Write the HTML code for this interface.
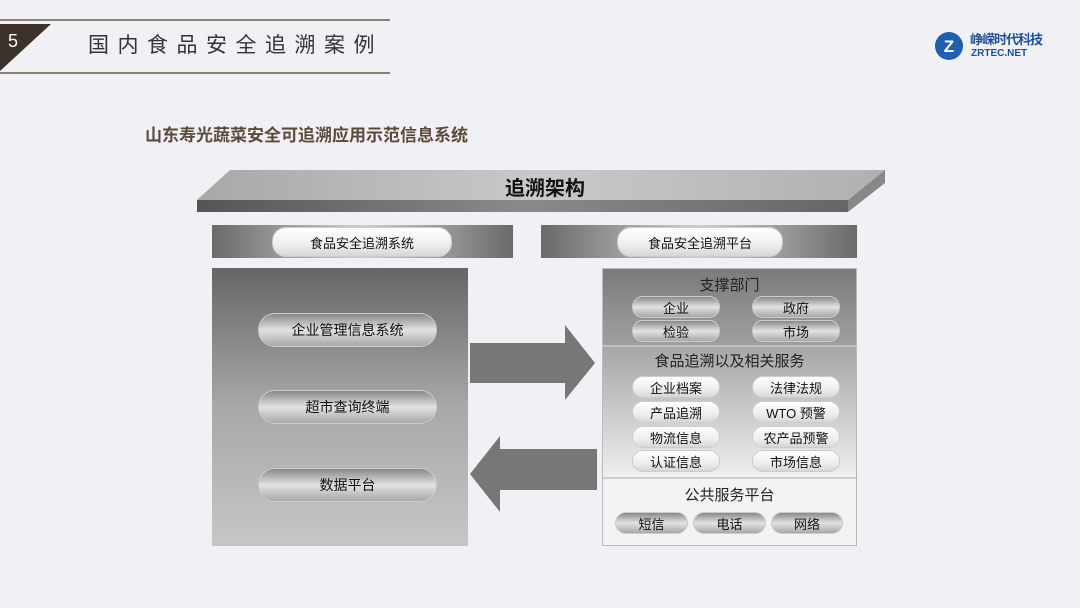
<!DOCTYPE html>
<html><head><meta charset="utf-8"><style>
*{margin:0;padding:0;box-sizing:border-box}
body{width:1080px;height:608px;background:#f1f0f4;position:relative;overflow:hidden;font-family:"Liberation Sans","Noto Sans CJK SC",sans-serif}
.a{position:absolute}
.pill{position:absolute;border-radius:14px;display:flex;align-items:center;justify-content:center;font-size:13px;color:#111;border:1px solid #ddd}
.dk{background:linear-gradient(#6e6e6e,#cfcfcf 60%,#9a9a9a);}
.lt{background:linear-gradient(#fff,#eee 60%,#d6d6d6);border-color:#ccc}
.mid{background:linear-gradient(#888,#e2e2e2 50%,#a8a8a8);border-color:#ccc}
.t{position:absolute;text-align:center;color:#222}
</style></head><body>
<div class="a" style="left:0;top:19px;width:390px;height:2px;background:#8a8078"></div>
<div class="a" style="left:0;top:72px;width:390px;height:2px;background:#8a8078"></div>
<svg class="a" style="left:0;top:0" width="60" height="80"><polygon points="0,24 51,24 0,71" fill="#3d312c"/><text x="8" y="47" fill="#fff" font-size="18" font-family="Liberation Sans">5</text></svg>
<div class="a" style="left:88px;top:33px;font-size:21px;letter-spacing:8.5px;color:#333;line-height:26px">国内食品安全追溯案例</div>
<svg class="a" style="left:934px;top:31px" width="30" height="30"><circle cx="15" cy="15" r="14" fill="#1f5fb0"/><text x="15" y="21" text-anchor="middle" fill="#fff" font-size="17" font-weight="bold" font-family="Liberation Sans">Z</text></svg>
<div class="a" style="left:970px;top:33px;font-size:13px;line-height:14px;color:#1f4f9a;font-weight:bold;letter-spacing:-1px">峥嵘时代科技</div>
<div class="a" style="left:971px;top:48px;font-size:10px;line-height:11px;color:#1f4f9a;font-weight:bold">ZRTEC.NET</div>
<div class="a" style="left:145px;top:121px;font-size:17px;font-weight:bold;color:#5a4a3a">山东寿光蔬菜安全可追溯应用示范信息系统</div>
<svg class="a" style="left:0;top:0" width="1080" height="608">
<defs>
<linearGradient id="top" x1="0" y1="0" x2="1" y2="0"><stop offset="0" stop-color="#a8a8a8"/><stop offset="0.5" stop-color="#c9c9c9"/><stop offset="1" stop-color="#b0b0b0"/></linearGradient>
<linearGradient id="front" x1="0" y1="0" x2="1" y2="0"><stop offset="0" stop-color="#555"/><stop offset="0.5" stop-color="#8a8a8a"/><stop offset="1" stop-color="#666"/></linearGradient>
<linearGradient id="bar" x1="0" y1="0" x2="1" y2="0"><stop offset="0" stop-color="#6a6a6a"/><stop offset="0.5" stop-color="#cfcfcf"/><stop offset="1" stop-color="#6a6a6a"/></linearGradient>
<linearGradient id="lb" x1="0" y1="0" x2="0" y2="1"><stop offset="0" stop-color="#666"/><stop offset="0.5" stop-color="#a8a8a8"/><stop offset="1" stop-color="#c6c6c6"/></linearGradient>
<linearGradient id="s1" x1="0" y1="0" x2="0" y2="1"><stop offset="0" stop-color="#7a7a7a"/><stop offset="1" stop-color="#a0a0a0"/></linearGradient>
<linearGradient id="s2" x1="0" y1="0" x2="0" y2="1"><stop offset="0" stop-color="#a6a6a6"/><stop offset="1" stop-color="#f0f0f0"/></linearGradient>
</defs>
<polygon points="230,170 885,170 848,200 197,200" fill="url(#top)"/>
<polygon points="197,200 848,200 848,212 197,212" fill="url(#front)"/>
<polygon points="848,200 885,170 885,183 848,212" fill="#888"/>
<rect x="212" y="225" width="301" height="33" fill="url(#bar)"/>
<rect x="541" y="225" width="316" height="33" fill="url(#bar)"/>
<rect x="212" y="268" width="256" height="278" fill="url(#lb)"/>
<rect x="602" y="268" width="255" height="78" fill="url(#s1)"/>
<rect x="602" y="346" width="255" height="132" fill="url(#s2)"/>
<rect x="602" y="478" width="255" height="68" fill="#f3f3f3"/>
<rect x="602.5" y="268.5" width="254" height="277" fill="none" stroke="#bbb"/>
<line x1="602" y1="346" x2="857" y2="346" stroke="#ddd"/>
<line x1="602" y1="478" x2="857" y2="478" stroke="#aaa"/>
<polygon points="470,343 565,343 565,325 595,363 565,400 565,383 470,383" fill="#777"/>
<polygon points="597,449 500,449 500,436 470,474 500,512 500,490 597,490" fill="#777"/>
</svg>
<div class="t" style="left:440px;top:172px;width:210px;font-size:20px;font-weight:bold;color:#111">追溯架构</div>
<div class="pill lt" style="left:272px;top:227px;width:180px;height:30px">食品安全追溯系统</div>
<div class="pill lt" style="left:617px;top:227px;width:166px;height:30px">食品安全追溯平台</div>
<div class="pill mid" style="left:258px;top:313px;width:179px;height:34px;border-radius:17px;font-size:14px">企业管理信息系统</div>
<div class="pill mid" style="left:258px;top:390px;width:179px;height:34px;border-radius:17px;font-size:14px">超市查询终端</div>
<div class="pill mid" style="left:258px;top:468px;width:179px;height:34px;border-radius:17px;font-size:14px">数据平台</div>
<div class="t" style="left:602px;top:274px;width:255px;font-size:15px">支撑部门</div>
<div class="pill mid" style="left:632px;top:296px;width:88px;height:22px">企业</div>
<div class="pill mid" style="left:752px;top:296px;width:88px;height:22px">政府</div>
<div class="pill mid" style="left:632px;top:320px;width:88px;height:22px">检验</div>
<div class="pill mid" style="left:752px;top:320px;width:88px;height:22px">市场</div>
<div class="t" style="left:602px;top:350px;width:255px;font-size:15px">食品追溯以及相关服务</div>
<div class="pill lt" style="left:632px;top:376px;width:88px;height:22px">企业档案</div>
<div class="pill lt" style="left:752px;top:376px;width:88px;height:22px">法律法规</div>
<div class="pill lt" style="left:632px;top:401px;width:88px;height:22px">产品追溯</div>
<div class="pill lt" style="left:752px;top:401px;width:88px;height:22px">WTO 预警</div>
<div class="pill lt" style="left:632px;top:426px;width:88px;height:22px">物流信息</div>
<div class="pill lt" style="left:752px;top:426px;width:88px;height:22px">农产品预警</div>
<div class="pill lt" style="left:632px;top:450px;width:88px;height:22px">认证信息</div>
<div class="pill lt" style="left:752px;top:450px;width:88px;height:22px">市场信息</div>
<div class="t" style="left:602px;top:484px;width:255px;font-size:15px">公共服务平台</div>
<div class="pill mid" style="left:615px;top:512px;width:73px;height:22px">短信</div>
<div class="pill mid" style="left:693px;top:512px;width:73px;height:22px">电话</div>
<div class="pill mid" style="left:771px;top:512px;width:72px;height:22px">网络</div>
</body></html>
